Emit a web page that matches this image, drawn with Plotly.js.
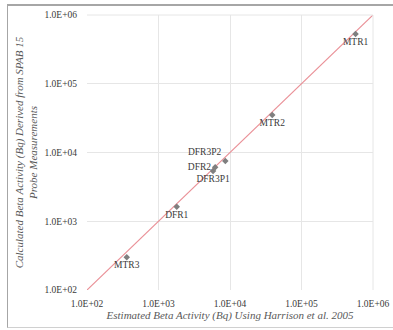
<!DOCTYPE html>
<html>
<head>
<meta charset="utf-8">
<script src="https://cdn.plot.ly/plotly-3.0.1.min.js"></script>
<style>
html,body{margin:0;padding:0;background:#fff;}
#frame{position:absolute;left:7px;top:4px;width:400px;height:321px;border-left:1.5px solid #a6a6a6;border-top:2px solid #a6a6a6;border-bottom:1px solid #d0d0d0;}
#chart{position:absolute;left:0;top:0;width:393px;height:330px;}
</style>
</head>
<body>
<div id="frame"></div>
<div id="chart"></div>
<script>
var sampleNames = ["MTR1", "MTR2", "DFR3P2", "DFR2", "DFR3P1", "DFR1", "MTR3"];
var estimatedActivity = [570000, 39000, 8600, 6200, 5800, 1800, 360];
var calculatedActivity = [530000, 35000, 7500, 6100, 5400, 1630, 300];
var labelPositions = ["bottom center", "bottom center", "top left", "middle left", "bottom center", "bottom center", "bottom center"];
var oneToOne = [100, 1000000];
var tickVals = [100, 1000, 10000, 100000, 1000000];
var tickText = ["1.0E+02", "1.0E+03", "1.0E+04", "1.0E+05", "1.0E+06"];

var serif = "Liberation Serif, Times New Roman, serif";

var traces = [
  {
    x: oneToOne, y: oneToOne, mode: "lines", type: "scatter",
    line: {color: "#ea9198", width: 1.2}, hoverinfo: "skip", showlegend: false
  },
  {
    x: estimatedActivity, y: calculatedActivity, text: sampleNames,
    mode: "markers+text", type: "scatter", textposition: labelPositions,
    textfont: {family: serif, size: 9.5, color: "#3a3a3a"},
    marker: {symbol: "diamond", size: 5, color: "#7f7f7f"},
    showlegend: false
  }
];

var layout = {
  width: 393, height: 330,
  margin: {l: 87, r: 20, t: 15, b: 40},
  paper_bgcolor: "rgba(0,0,0,0)", plot_bgcolor: "rgba(0,0,0,0)",
  font: {family: serif, size: 10, color: "#404040"},
  xaxis: {
    type: "log", range: [2, 6], tickvals: tickVals, ticktext: tickText,
    showgrid: true, gridcolor: "#e6e6e6", gridwidth: 1, zeroline: false,
    showline: false, ticks: "", ticklabelstandoff: 6,
    tickfont: {family: serif, size: 9.5, color: "#3a3a3a"},
    title: {text: "<i>Estimated Beta Activity (Bq) Using Harrison et al. 2005</i>",
            font: {family: serif, size: 11, color: "#595959"}, standoff: 3}
  },
  yaxis: {
    type: "log", range: [2, 6], tickvals: tickVals, ticktext: tickText,
    showgrid: true, gridcolor: "#e6e6e6", gridwidth: 1, zeroline: false,
    showline: false, ticks: "", ticklabelstandoff: 9,
    tickfont: {family: serif, size: 9.5, color: "#3a3a3a"},
    title: {text: "<i>Calculated Beta Activity (Bq) Derived from SPAB 15<br>Probe Measurements</i>",
            font: {family: serif, size: 11, color: "#595959"}, standoff: 4}
  },
  shapes: [
    {type: "line", xref: "paper", yref: "paper", x0: 1, x1: 1, y0: 0, y1: 1, line: {color: "#e6e6e6", width: 1}},
    {type: "line", xref: "paper", yref: "paper", x0: 0, x1: 1, y0: 1, y1: 1, line: {color: "#e6e6e6", width: 1}}
  ]
};

Plotly.newPlot("chart", traces, layout, {displayModeBar: false, staticPlot: true});
</script>
</body>
</html>
